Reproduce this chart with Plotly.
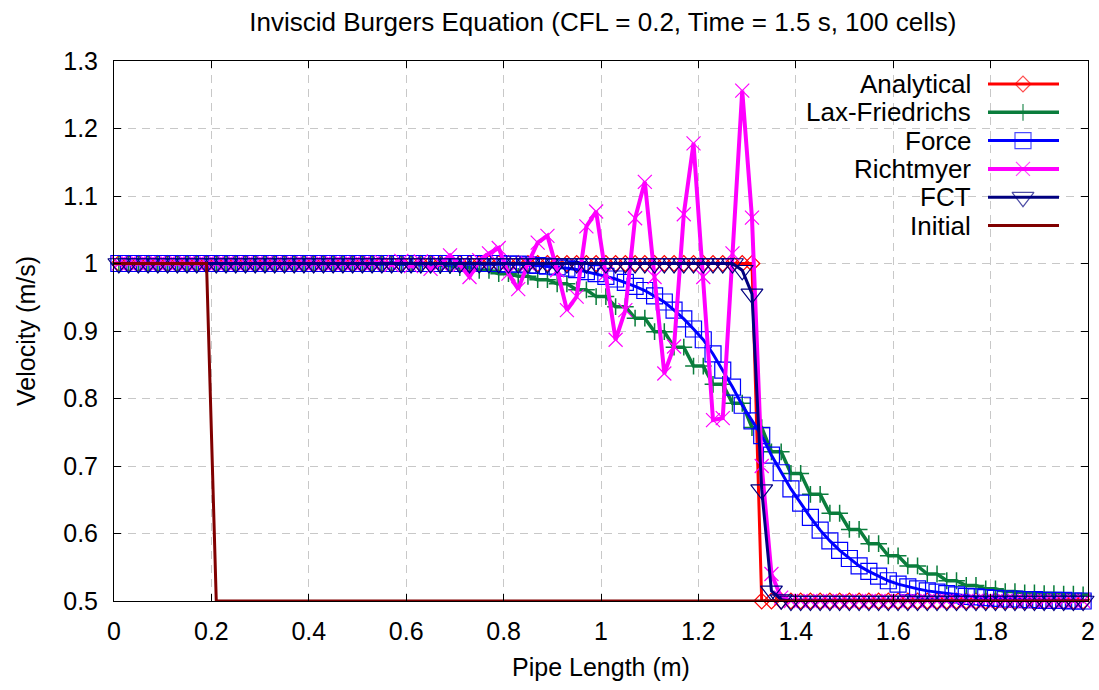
import plotly.graph_objects as go

# ---------------- data ----------------
# cell-centre grid (100 cells of 0.02 m, plus one ghost cell each side)
x_grid = [round(-0.01 + 0.02 * i, 2) for i in range(102)]

analytical = [1.0] * 67 + [0.5] * 35

lax_friedrichs = [1.0] * 30 + [
    0.999, 0.999, 0.998, 0.998, 0.997, 0.997, 0.994, 0.994, 0.990, 0.990,
    0.985, 0.985, 0.981, 0.981, 0.976, 0.976, 0.970, 0.970, 0.961, 0.961,
    0.951, 0.951, 0.936, 0.936, 0.919, 0.919, 0.899, 0.899, 0.876, 0.876,
    0.848, 0.848, 0.821, 0.821, 0.793, 0.793, 0.757, 0.757, 0.721, 0.721,
    0.689, 0.689, 0.658, 0.658, 0.630, 0.630, 0.606, 0.606, 0.585, 0.585,
    0.567, 0.567, 0.552, 0.552, 0.540, 0.540, 0.530, 0.530, 0.523, 0.523,
    0.518, 0.518, 0.514, 0.514, 0.512, 0.512, 0.511, 0.511, 0.510, 0.510,
    0.509, 0.509]

force = [1.0] * 41 + [
    0.999, 0.999, 0.998, 0.997, 0.996, 0.995, 0.993, 0.991, 0.988, 0.985,
    0.981, 0.977, 0.972, 0.966, 0.960, 0.952, 0.943, 0.931, 0.918, 0.903,
    0.887, 0.866, 0.842, 0.817, 0.790, 0.767, 0.745, 0.716, 0.690, 0.666,
    0.645, 0.624, 0.605, 0.589, 0.575, 0.563, 0.552, 0.544, 0.537, 0.530,
    0.525, 0.521, 0.518, 0.515, 0.513, 0.511, 0.509, 0.507, 0.506, 0.505,
    0.504, 0.503, 0.503, 0.502, 0.502, 0.501, 0.501, 0.501, 0.500, 0.500,
    0.500]

richtmyer = [1.0] * 28 + [
    1.002, 0.998, 1.004, 0.996, 1.003, 0.992, 1.000, 1.012, 0.998, 0.980,
    1.005, 1.015, 1.023, 0.985, 0.962, 1.000, 1.031, 1.041, 0.990, 0.931,
    0.951, 1.055, 1.077, 0.985, 0.887, 0.931, 1.067, 1.121, 0.980, 0.837,
    0.877, 1.073, 1.178, 0.980, 0.768, 0.771, 1.015, 1.256, 1.068, 0.700,
    0.540, 0.505] + [0.5] * 32

fct = [1.0] * 65 + [0.990, 0.955, 0.665, 0.515, 0.502] + [0.5] * 32

initial = [1.0] * 11 + [0.5] * 91

series_names = ["Analytical", "Lax-Friedrichs", "Force", "Richtmyer", "FCT", "Initial"]
series_values = [analytical, lax_friedrichs, force, richtmyer, fct, initial]

x_ticks = [0, 0.2, 0.4, 0.6, 0.8, 1, 1.2, 1.4, 1.6, 1.8, 2]
y_ticks = [0.5, 0.6, 0.7, 0.8, 0.9, 1, 1.1, 1.2, 1.3]

# ---------------- styles ----------------
FONT = "Liberation Sans, Arial, sans-serif"
FS = 25
FS_TITLE = 26
FS_KEY = 26
styles = [
    dict(color="#ff0000", width=3, symbol="diamond-open", size=12, mlw=1.2),
    dict(color="#0a7d3c", width=3.5, symbol="cross-thin", size=12, mlw=1.5),
    dict(color="#0000ff", width=3, symbol="square-open", size=16, mlw=1.2),
    dict(color="#ff00ff", width=4, symbol="x-thin", size=14, mlw=1.2),
    dict(color="#000080", width=3, symbol="triangle-down-open", size=19, mlw=1.2),
    dict(color="#800000", width=3, symbol=None, size=0, mlw=0),
]

fig = go.Figure()
for name, vals, st in zip(series_names, series_values, styles):
    if st["symbol"]:
        fig.add_trace(go.Scatter(
            x=x_grid, y=vals, name=name, mode="lines+markers", cliponaxis=False,
            line=dict(color=st["color"], width=st["width"]),
            marker=dict(symbol=st["symbol"], size=st["size"], color=st["color"],
                        line=dict(color=st["color"], width=st["mlw"])),
            showlegend=False))
    else:
        fig.add_trace(go.Scatter(
            x=x_grid, y=vals, name=name, mode="lines",
            line=dict(color=st["color"], width=st["width"]), showlegend=False))

# ---------------- gnuplot-style key (text right-aligned, sample on the right) ----------------
KEY_TEXT_RIGHT = 973
KEY_X0, KEY_XM, KEY_X1 = 988, 1023, 1059
KEY_ROW0, KEY_STEP = 84, 28.3
for i, (name, st) in enumerate(zip(series_names, styles)):
    ry = KEY_ROW0 + i * KEY_STEP
    fig.add_trace(go.Scatter(
        x=[KEY_X0, KEY_XM, KEY_X1], y=[ry, ry, ry], xaxis="x2", yaxis="y2",
        mode="lines+markers" if st["symbol"] else "lines", hoverinfo="skip",
        line=dict(color=st["color"], width=st["width"]),
        marker=dict(symbol=st["symbol"] or "circle", size=[0, st["size"], 0],
                    color=st["color"], line=dict(color=st["color"], width=st["mlw"])),
        showlegend=False))
    fig.add_annotation(x=KEY_TEXT_RIGHT, y=ry, xref="x2", yref="y2", text=name,
                       showarrow=False, xanchor="right", yanchor="middle",
                       font=dict(family=FONT, size=FS_KEY, color="#000000"))

axis_common = dict(showline=True, linecolor="#000000", linewidth=1, mirror="ticks",
                   ticks="inside", ticklen=7, tickcolor="#000000", tickwidth=1,
                   showgrid=True, gridcolor="#c8c8c8", griddash="8px,6px", gridwidth=1,
                   zeroline=False, automargin=False,
                   tickfont=dict(family=FONT, size=FS, color="#000000"))

fig.update_layout(
    width=1099, height=690,
    margin=dict(l=114, r=11, t=61, b=89, autoexpand=False),
    paper_bgcolor="#ffffff", plot_bgcolor="#ffffff",
    title=dict(text="Inviscid Burgers Equation (CFL = 0.2, Time = 1.5 s, 100 cells)",
               x=0.5485, xanchor="center", y=0.968, yanchor="middle",
               font=dict(family=FONT, size=FS_TITLE, color="#000000")),
    xaxis=dict(range=[0, 2], tickvals=x_ticks, ticklabelstandoff=8,
               title=dict(text="Pipe Length (m)", standoff=14,
                          font=dict(family=FONT, size=FS, color="#000000")),
               **axis_common),
    yaxis=dict(range=[0.5, 1.3], tickvals=y_ticks, ticklabelstandoff=10,
               title=dict(text="Velocity (m/s)", standoff=20,
                          font=dict(family=FONT, size=FS, color="#000000")),
               **axis_common),
    xaxis2=dict(overlaying="x", anchor="y2", range=[114, 1088], visible=False, fixedrange=True),
    yaxis2=dict(overlaying="y", anchor="x2", range=[601, 61], visible=False, fixedrange=True),
    showlegend=False,
)

fig.write_html("out.html")
